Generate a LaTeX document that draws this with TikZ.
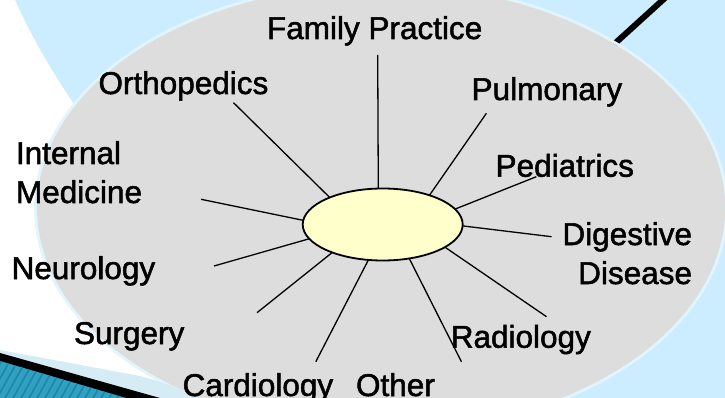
\documentclass[tikz,border=0pt]{standalone}
\usepackage{fontspec}
\setmainfont{Liberation Sans}
\newfontfamily\lblfont[FakeBold=1.6]{Liberation Sans}
\usetikzlibrary{shapes.geometric}
\definecolor{bgblue}{RGB}{204,236,255}
\definecolor{halo}{RGB}{226,245,252}
\definecolor{greyfill}{RGB}{221,221,221}
\definecolor{hubfill}{RGB}{255,255,204}
\definecolor{band}{RGB}{214,236,245}
\definecolor{tealA}{RGB}{48,160,195}
\definecolor{tealB}{RGB}{32,132,165}
\begin{document}
\begin{tikzpicture}[x=1pt,y=-1pt,
  lbl/.style={font=\lblfont\fontsize{31.5}{38}\selectfont, inner sep=0pt, outer sep=0pt},
  spoke/.style={draw=black, line width=1.3pt},
  hubstyle/.style={ellipse, draw=black, line width=1.8pt, fill=hubfill,
    minimum width=160pt, minimum height=72pt, inner sep=0pt, outer sep=0pt}]
\useasboundingbox (0,0) rectangle (725,398);
\clip (0,0) rectangle (725,398);
% background
\fill[bgblue] (0,0) rectangle (725,398);
\fill[white] (0,0) -- (15,0) .. controls (35,45) and (60,85) .. (85,120) -- (320,398) -- (0,398) -- cycle;
% black diagonal stroke at top right
\draw[line width=6pt] (600,57) -- (676,-12);
% big grey ellipse with light halo
\draw[halo, line width=3pt] (381,208) ellipse [x radius=345.5pt, y radius=224.5pt];
\fill[greyfill] (381,208) ellipse [x radius=344pt, y radius=223pt];
% chevron at bottom left
\fill[band] (0,350) -- (140,376) .. controls (165,383) and (185,390) .. (200,398) -- (0,398) -- cycle;
\fill[black] (0,353) -- (160,398) -- (0,398) -- cycle;
\fill[tealA] (0,361) -- (126,398) -- (0,398) -- cycle;
\begin{scope}
  \clip (0,361) -- (126,398) -- (0,398) -- cycle;
  \foreach \i in {-60,-52,...,140} \draw[tealB, line width=1.6pt] (\i,400) -- (\i+25,355);
\end{scope}
% hub
\node[hubstyle] (hub) at (382.7,224.5) {};
% labels
\node[lbl, anchor=base west] (fp) at (267,39) {Family Practice};
\node[lbl, anchor=base west] (ortho) at (98.5,94) {Orthopedics};
\node[lbl, anchor=base west] (pulm) at (471.6,100) {Pulmonary};
\node[lbl, anchor=base west] (im1) at (16,164) {Internal};
\node[lbl, anchor=base west] (im2) at (16,203) {Medicine};
\node[lbl, anchor=base west] (ped) at (495.6,176.7) {Pediatrics};
\node[lbl, anchor=base east] (dig1) at (692,245) {Digestive};
\node[lbl, anchor=base east] (dig2) at (692,284) {Disease};
\node[lbl, anchor=base west] (neuro) at (11.6,279) {Neurology};
\node[lbl, anchor=base west] (surg) at (74,344) {Surgery};
\node[lbl, anchor=base west] (rad) at (450.8,347.7) {Radiology};
\node[lbl, anchor=base west] (card) at (182.6,396) {Cardiology};
\node[lbl, anchor=base west] (other) at (356,396) {Other};
% spoke outer ends
\coordinate (fpE) at (377.7,55);
\coordinate (orthoE) at (233.5,102.7);
\coordinate (pulmE) at (486.4,113.3);
\coordinate (pedE) at (536.3,176.7);
\coordinate (digE) at (551.5,236.7);
\coordinate (radE) at (546.5,316.7);
\coordinate (otherE) at (461.4,361.7);
\coordinate (cardE) at (315.8,361.7);
\coordinate (surgE) at (257,312.7);
\coordinate (neuroE) at (214,266);
\coordinate (imE) at (201.1,199.3);
% spokes
\draw[spoke] (fpE) -- (hub.97.9);
\draw[spoke] (orthoE) -- (hub.153.8);
\draw[spoke] (pulmE) -- (hub.32);
\draw[spoke] (pedE) -- (hub.12.6);
\draw[spoke] (digE) -- (hub.-1.6);
\draw[spoke] (radE) -- (hub.-20.6);
\draw[spoke] (otherE) -- (hub.-52.7);
\draw[spoke] (cardE) -- (hub.-112.2);
\draw[spoke] (surgE) -- (hub.-151.1);
\draw[spoke] (neuroE) -- (hub.-169.9);
\draw[spoke] (imE) -- (hub.177.3);
\end{tikzpicture}
\end{document}
